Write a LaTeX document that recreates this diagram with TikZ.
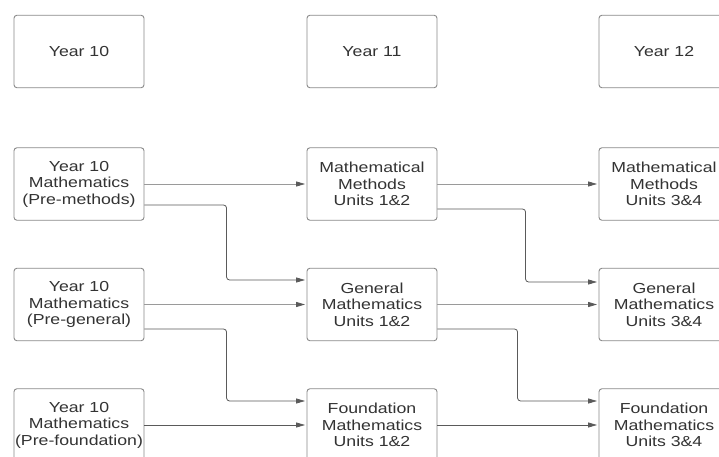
\documentclass[tikz,border=0pt]{standalone}
\usepackage{fontspec}
\setmainfont[FakeStretch=1.22]{Liberation Sans}
\usetikzlibrary{calc,arrows.meta}
\definecolor{txt}{HTML}{333333}
\definecolor{boxline}{HTML}{8A8A8A}
\definecolor{lnk}{HTML}{5A5A5A}
\definecolor{lnklight}{HTML}{9A9A9A}
\tikzset{
  card/.style={draw=boxline, line width=0.9pt, rounded corners=3pt, fill=white,
    minimum width=130pt, minimum height=72.5pt, inner sep=0pt, align=center,
    text=txt, font=\fontsize{14.5}{16.5}\selectfont},
  arr/.style={draw=lnk, line width=0.8pt, rounded corners=3pt,
    -{Triangle[length=9pt,width=5pt]}, shorten >=1.5pt},
  arrlight/.style={arr, draw=lnklight, -{Triangle[length=9pt,width=5pt,color=lnk]}}
}
\begin{document}
\begin{tikzpicture}[x=1pt,y=-1pt]
\useasboundingbox (0,0) rectangle (719,457);
\fill[white] (0,0) rectangle (719,457);
\clip (0,0) rectangle (719,457);
% header row
\node[card] (y10) at (79,51.5) {Year 10};
\node[card] (y11) at (372,51.5) {Year 11};
\node[card] (y12) at (664,51.5) {Year 12};
% column 1
\node[card] (pm) at (79,184) {Year 10\\Mathematics\\(Pre-methods)};
\node[card] (pg) at (79,304.5) {Year 10\\Mathematics\\(Pre-general)};
\node[card] (pf) at (79,425) {Year 10\\Mathematics\\(Pre-foundation)};
% column 2
\node[card] (mm12) at (372,184) {Mathematical\\Methods\\Units 1\&2};
\node[card] (gm12) at (372,304.5) {General\\Mathematics\\Units 1\&2};
\node[card] (fm12) at (372,425) {Foundation\\Mathematics\\Units 1\&2};
% column 3
\node[card] (mm34) at (664,184) {Mathematical\\Methods\\Units 3\&4};
\node[card] (gm34) at (664,304.5) {General\\Mathematics\\Units 3\&4};
\node[card] (fm34) at (664,425) {Foundation\\Mathematics\\Units 3\&4};
% straight connectors
\draw[arrlight] (pm.east) -- (mm12.west);
\draw[arrlight] (pg.east) -- (gm12.west);
\draw[arr] (pf.east) -- (fm12.west);
\draw[arrlight] (mm12.east) -- (mm34.west);
\draw[arrlight] (gm12.east) -- (gm34.west);
\draw[arr] (fm12.east) -- (fm34.west);
% elbow connectors
\draw[arr] ($(pm.east)+(0,21)$) -| ($(gm12.west)+(-80,-24.5)$) -- ($(gm12.west)+(0,-24.5)$);
\draw[arr] ($(pg.east)+(0,24.5)$) -| ($(fm12.west)+(-80,-24)$) -- ($(fm12.west)+(0,-24)$);
\draw[arr] ($(mm12.east)+(0,25)$) -| ($(gm34.west)+(-73,-22.5)$) -- ($(gm34.west)+(0,-22.5)$);
\draw[arr] ($(gm12.east)+(0,24.5)$) -| ($(fm34.west)+(-81,-24)$) -- ($(fm34.west)+(0,-24)$);
\end{tikzpicture}
\end{document}
